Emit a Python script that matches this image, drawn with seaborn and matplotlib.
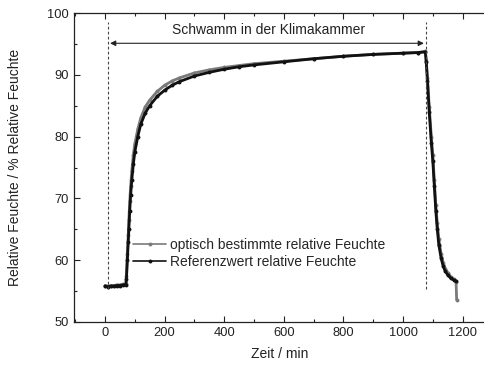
import numpy as np
import pandas as pd
import matplotlib
matplotlib.use("Agg")
import matplotlib.pyplot as plt
import seaborn as sns
from matplotlib.ticker import MultipleLocator

# ---- data ----
t_ref = [0, 10, 20, 30, 40, 50, 60, 70, 72, 75, 78, 80, 83, 86, 90, 95, 100, 110, 120, 135,
         150, 175, 200, 225, 250, 300, 350, 400, 450, 500, 600, 700, 800, 900, 1000, 1050,
         1075, 1078, 1082, 1088, 1095, 1100, 1105, 1110, 1115, 1120, 1128, 1135, 1142, 1150,
         1160, 1170, 1178]
rh_ref = [55.8, 55.7, 55.8, 55.8, 55.9, 55.9, 56.0, 56.0, 57.0, 60.0, 63.0, 65.0, 68.0, 70.5,
          73.0, 75.5, 77.5, 80.0, 82.0, 83.8, 85.0, 86.5, 87.5, 88.3, 88.9, 89.8, 90.4, 90.9,
          91.3, 91.6, 92.1, 92.6, 93.0, 93.3, 93.5, 93.6, 93.7, 92.0, 89.0, 84.0, 79.0, 76.0,
          72.0, 68.0, 65.0, 62.5, 60.3, 59.0, 58.2, 57.6, 57.1, 56.8, 56.6]

t_opt = [0, 10, 20, 30, 40, 50, 60, 70, 72, 75, 78, 80, 83, 86, 90, 95, 100, 110, 120, 135,
         150, 175, 200, 225, 250, 300, 350, 400, 450, 500, 600, 700, 800, 900, 1000, 1050,
         1075, 1078, 1082, 1088, 1095, 1100, 1105, 1110, 1115, 1120, 1128, 1135, 1142, 1150,
         1160, 1170, 1178, 1180]
rh_opt = [55.9, 55.8, 55.9, 55.9, 56.0, 56.0, 56.1, 56.1, 57.5, 61.0, 64.0, 66.5, 69.5, 72.0,
          74.5, 77.0, 78.8, 81.2, 83.0, 84.8, 85.9, 87.3, 88.3, 89.0, 89.5, 90.3, 90.8, 91.2,
          91.5, 91.8, 92.2, 92.6, 93.0, 93.3, 93.5, 93.6, 93.8, 92.3, 89.5, 84.8, 80.0, 77.0,
          73.0, 69.0, 66.0, 63.5, 61.0, 59.6, 58.6, 58.0, 57.3, 56.9, 56.5, 53.6]

label_opt = "optisch bestimmte relative Feuchte"
label_ref = "Referenzwert relative Feuchte"

x_ticks = [0, 200, 400, 600, 800, 1000, 1200]
y_ticks = [50, 60, 70, 80, 90, 100]
marker_times = [10, 1077]
span_text = "Schwamm in der Klimakammer"

df = pd.concat([
    pd.DataFrame({"t": t_opt, "rh": rh_opt, "series": label_opt}),
    pd.DataFrame({"t": t_ref, "rh": rh_ref, "series": label_ref}),
], ignore_index=True)

sns.set_theme(style="ticks")
plt.rcParams["font.family"] = ["Liberation Sans", "DejaVu Sans"]

fig = plt.figure(figsize=(4.84, 3.69), dpi=100)
ax = fig.add_axes([74 / 484, 1 - 322 / 369, 1 - 74 / 484 + 0.002, (322 - 13) / 369])

sns.lineplot(data=df, x="t", y="rh", hue="series", sort=False, estimator=None,
             palette={label_opt: "#7a7a7a", label_ref: "#111111"},
             marker="o", markersize=2.8, markeredgewidth=0, linewidth=2.0, ax=ax)

for xm in marker_times:
    ax.plot([xm, xm], [55.3, 98.5], ls=(0, (2.5, 2)), color="#444444", lw=0.8)

ax.annotate("", xy=(17, 95.1), xytext=(1070, 95.1),
            arrowprops=dict(arrowstyle="<|-|>", color="#222222", lw=0.8,
                            mutation_scale=8, shrinkA=0, shrinkB=0))
ax.text(548, 96.1, span_text, ha="center", va="bottom", fontsize=10, color="#222222")

ax.set_xlim(-104, 1275)
ax.set_ylim(50, 100)
ax.set_xticks(x_ticks)
ax.set_yticks(y_ticks)
ax.xaxis.set_minor_locator(MultipleLocator(100))
ax.yaxis.set_minor_locator(MultipleLocator(5))
ax.tick_params(which="both", direction="in", top=True, right=False, labelsize=9.3,
               colors="#222222")
ax.tick_params(which="major", length=4, width=0.8)
ax.tick_params(which="minor", length=2.5, width=0.8)
for s in ["left", "bottom", "top"]:
    ax.spines[s].set_linewidth(0.9)
    ax.spines[s].set_color("#222222")
ax.spines["right"].set_visible(False)

ax.set_xlabel("Zeit / min", fontsize=10, color="#222222", labelpad=6)
ax.set_ylabel("Relative Feuchte / % Relative Feuchte", fontsize=10, color="#222222",
              labelpad=18)

leg = ax.legend(loc="upper left", bbox_to_anchor=(0.13, 0.29), frameon=False,
                fontsize=10, handlelength=2.4, handletextpad=0.3, labelspacing=0.2,
                borderaxespad=0)
for h in leg.get_lines():
    h.set_linewidth(1.2)

fig.savefig("out.png", dpi=100)
